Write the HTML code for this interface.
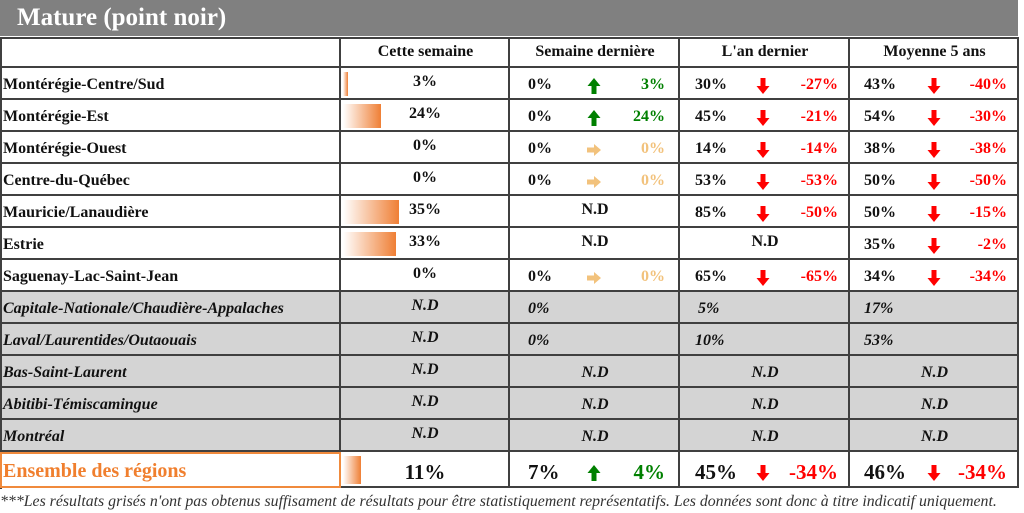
<!DOCTYPE html>
<html><head><meta charset="utf-8">
<style>
html,body{margin:0;padding:0;background:#fff;}
body{width:1024px;height:513px;position:relative;overflow:hidden;font-family:"Liberation Serif",serif;}
#title{position:absolute;left:0;top:0;width:1018px;height:36px;background:#808080;color:#fff;font-weight:bold;font-size:25px;line-height:36px;}
#title span{margin-left:17px;}
.abs{position:absolute;}
.cell{position:absolute;box-sizing:border-box;border-right:2px solid #404040;border-bottom:2px solid #404040;}
.t{position:absolute;font-weight:bold;font-size:16px;white-space:nowrap;color:#111;}
#foot{position:absolute;left:0;top:493px;font-style:italic;font-size:16px;color:#333;white-space:nowrap;transform-origin:0 0;}
</style></head>
<body>
<div id="title"><span>Mature (point noir)</span></div>
<div id="tbl" class="abs" style="left:0;top:37px;width:1019px;height:452px;border-left:2px solid #404040;border-top:2px solid #404040;box-sizing:border-box;"></div>
<div id="foot">***Les résultats grisés n'ont pas obtenus suffisament de résultats pour être statistiquement représentatifs. Les données sont donc à titre indicatif uniquement.</div>
<script>
const headers = ["Cette semaine","Semaine dernière","L'an dernier","Moyenne 5 ans"];
const regions = ["Montérégie-Centre/Sud","Montérégie-Est","Montérégie-Ouest","Centre-du-Québec","Mauricie/Lanaudière","Estrie","Saguenay-Lac-Saint-Jean","Capitale-Nationale/Chaudière-Appalaches","Laval/Laurentides/Outaouais","Bas-Saint-Laurent","Abitibi-Témiscamingue","Montréal","Ensemble des régions"];
const greyed = [0,0,0,0,0,0,0,1,1,1,1,1,0];
const thisWeek = [3,24,0,0,35,33,0,null,null,null,null,null,11];
const lastWeek = [0,0,0,0,null,null,0,0,0,null,null,null,7];
const lastWeekDelta = [3,24,0,0,null,null,0,null,null,null,null,null,4];
const lastYear = [30,45,14,53,85,null,65,5,10,null,null,null,45];
const lastYearDelta = [-27,-21,-14,-53,-50,null,-65,null,null,null,null,null,-34];
const avg5 = [43,54,38,50,50,35,34,17,53,null,null,null,46];
const avg5Delta = [-40,-30,-38,-50,-15,-2,-34,null,null,null,null,null,-34];

const colX=[0,341,510,680,850,1019];
const pxPerPct=1.6;
const body=document.body;
function rowTop(i){return i<12?68+i*32:452;}
function rowH(i){return i<12?32:36;}
function mk(cls,l,t,w,h){const d=document.createElement('div');d.className=cls;d.style.left=l+'px';d.style.top=t+'px';if(w!=null)d.style.width=w+'px';if(h!=null)d.style.height=h+'px';body.appendChild(d);return d;}
function txt(s,l,t,opts){const d=mk('t',l,t);d.textContent=s;opts=opts||{};if(opts.color)d.style.color=opts.color;if(opts.italic)d.style.fontStyle='italic';if(opts.size)d.style.fontSize=opts.size+'px';if(opts.center){d.style.width='0';d.style.display='flex';d.style.justifyContent='center';}if(opts.right){d.style.transform='translateX(-100%)';}return d;}
function pct(v){return v+'%';}
function arrow(cx,cy,dir){
  const s=document.createElementNS('http://www.w3.org/2000/svg','svg');
  s.setAttribute('width',20);s.setAttribute('height',20);
  s.style.position='absolute';s.style.left=(cx-10)+'px';s.style.top=(cy-10)+'px';
  const p=document.createElementNS('http://www.w3.org/2000/svg','polygon');
  let col,pts;
  if(dir==='up'){col='#008000';pts='10,2 16.5,10 12.5,10 12.5,18 7.5,18 7.5,10 3.5,10';}
  else if(dir==='down'){col='#ff0000';pts='10,18 16.5,10 12.5,10 12.5,2 7.5,2 7.5,10 3.5,10';}
  else {col='#f2c27c';pts='17,10 10,4 10,7.5 3,7.5 3,12.5 10,12.5 10,16';}
  p.setAttribute('points',pts);p.setAttribute('fill',col);s.appendChild(p);
  
  
  body.appendChild(s);
}
for(let c=0;c<5;c++){
  const d=mk('cell',colX[c],37,colX[c+1]-colX[c],31);
  
  
  if(c===0)d.style.borderLeft='2px solid #404040';
  d.style.borderTop='2px solid #404040';
  if(c>0){txt(headers[c-1],(colX[c]+colX[c+1])/2,43,{center:true});}
}
const sub=[{v:528,a:594,d:665},{v:695,a:763,d:838},{v:864,a:934,d:1007}];
const valArrs=[lastWeek,lastYear,avg5];
const delArrs=[lastWeekDelta,lastYearDelta,avg5Delta];
for(let i=0;i<regions.length;i++){
  const top=rowTop(i),h=rowH(i),g=greyed[i],last=i===12;
  for(let c=0;c<5;c++){
    const d=mk('cell',colX[c],top,colX[c+1]-colX[c],h);
    
    
    if(c===0)d.style.borderLeft='2px solid #404040';
    if(g)d.style.background='#d4d4d4';
    if(last&&c===0){d.style.border='2px solid #f08a3c';d.style.left='0px';}
  }
  const fs=last?21:16;
  const vy=last?top+8:top+8;
  const lab=txt(regions[i],3,last?top+8:top+8,{italic:g,color:last?'#f07f2e':null,size:last?20:16});
  
  
  const tw=thisWeek[i];
  if(tw!=null){
    if(tw>0){
      const b=mk('abs',343,top+4,tw*pxPerPct,h-8);
      b.style.background='linear-gradient(to right,#fff,#ef7f35)';
      
      
    }
    txt(pct(tw),425,last?top+8:top+5,{center:true,size:last?21:16});
  } else txt('N.D',425,top+5,{center:true,italic:true});
  for(let k=0;k<3;k++){
    const v=valArrs[k][i],dl=delArrs[k][i],cx=(colX[k+2]+colX[k+3])/2;
    if(v==null){txt('N.D',cx,top+(g?8:5),{center:true,italic:g});continue;}
    if(g){txt(pct(v),sub[k].v+(k==1&&v<10?3:0),top+8,{italic:true});continue;}
    txt(pct(v),sub[k].v,vy,{size:fs});
    if(dl!=null){
      const dir=dl>0?'up':(dl<0?'down':'right');
      const col=dl>0?'#008000':(dl<0?'#ff0000':'#f2c27c');
      arrow(sub[k].a,top+h/2+(last?3:2),dir);
      txt(pct(dl),sub[k].d,vy,{size:fs,color:col,right:true});
    }
  }
}
const f=document.getElementById('foot');
f.style.transform='scaleX('+(997/f.scrollWidth)+')';
</script>
</body></html>
